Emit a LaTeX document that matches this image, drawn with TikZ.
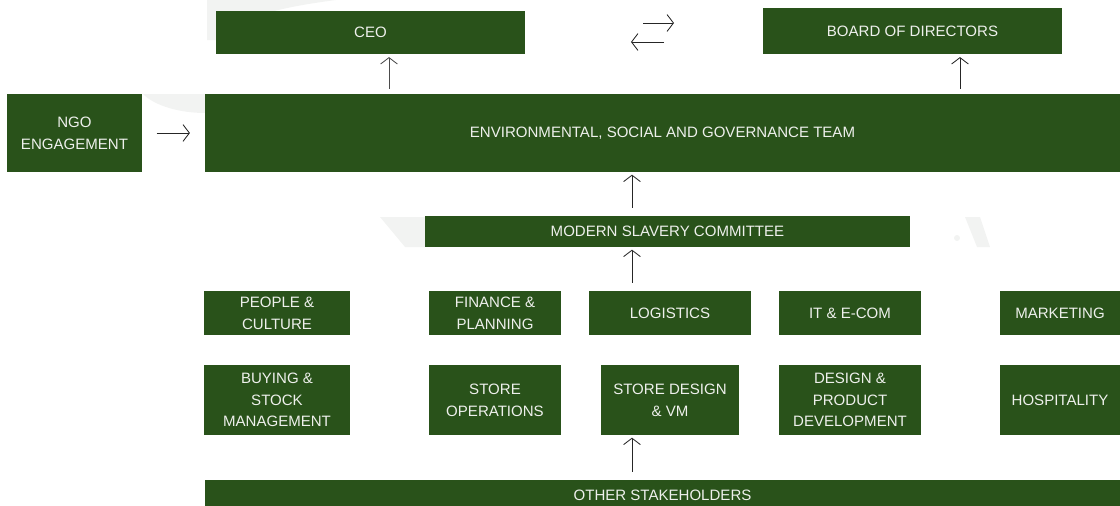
\documentclass[tikz,border=0pt]{standalone}
\usepackage{xcolor}
\usepackage{fontspec}
\setmainfont{Liberation Sans}
\usepackage{tikz}
\usetikzlibrary{arrows.meta,positioning,calc}

\definecolor{esggreen}{RGB}{41,82,26}
\definecolor{boxtext}{RGB}{238,240,236}
\definecolor{wmgray}{RGB}{242,243,242}

\begin{document}
\begin{tikzpicture}[x=0.025cm, y=-0.025cm,
    block/.style={rectangle, fill=esggreen, text=boxtext, align=center, inner sep=0pt, font=\fontsize{10.7}{15.4}\selectfont},
    boxsize/.style 2 args={minimum width=#1*0.025cm, minimum height=#2*0.025cm},
    line/.style={draw, black!85, line width=0.6pt, -{Straight Barb[length=0.16cm, width=0.42cm]}, shorten <=0.2cm, shorten >=0.06cm},
    mark_bg/.style={fill=wmgray, draw=none}]

    \useasboundingbox (0,0) rectangle (1120,506);

    % faint logo behind the chart
    \path [mark_bg] (207,0) -- (336,0) .. controls (290,6) and (235,16) .. (217,40) -- (207,40) -- cycle;
    \path [mark_bg] (143,94) -- (205,94) -- (205,113) .. controls (180,113) and (155,106) .. (143,94);
    \path [mark_bg] (380,217) -- (425,217) -- (425,247) -- (405,247) -- cycle;
    \path [mark_bg] (965,217) -- (980,217) -- (990,247) -- (977,247) -- cycle;
    \path [mark_bg] (957,238) circle (3);

    \node [block, boxsize={309}{43}] (ceo) at (370.5,32.5) {CEO};
    \node [block, boxsize={299}{46}] (board) at (912.5,31) {BOARD OF DIRECTORS};
    \node [block, boxsize={135}{78}] (ngo) at (74.5,133) {NGO\\ENGAGEMENT};
    \node [block, boxsize={915}{78}] (esg) at (662.5,133) {ENVIRONMENTAL, SOCIAL AND GOVERNANCE TEAM};
    \node [block, boxsize={485}{31}] (msc) at (667.5,231.5) {MODERN SLAVERY COMMITTEE};

    \node [block, boxsize={146}{44}] (people) at (277,313) {PEOPLE \&\\CULTURE};
    \node [block, boxsize={132}{44}] (finance) at (495,313) {FINANCE \&\\PLANNING};
    \node [block, boxsize={162}{44}] (logistics) at (670,313) {LOGISTICS};
    \node [block, boxsize={142}{44}] (itecom) at (850,313) {IT \& E-COM};
    \node [block, boxsize={120}{44}] (marketing) at (1060,313) {MARKETING};

    \node [block, boxsize={146}{70}] (buying) at (277,400) {BUYING \&\\STOCK\\MANAGEMENT};
    \node [block, boxsize={132}{70}] (storeops) at (495,400) {STORE\\OPERATIONS};
    \node [block, boxsize={138}{70}] (storedesign) at (670,400) {STORE DESIGN\\\& VM};
    \node [block, boxsize={142}{70}] (design) at (850,400) {DESIGN \&\\PRODUCT\\DEVELOPMENT};
    \node [block, boxsize={120}{70}] (hospitality) at (1060,400) {HOSPITALITY};

    \node [block, boxsize={915}{30}] (other) at (662.5,495) {OTHER STAKEHOLDERS};

    \coordinate (swapA) at (643,23);
    \coordinate (swapB) at (674,23);
    \coordinate (swapC) at (664,42);
    \coordinate (swapD) at (631,42);

    \path [line, shorten <=0pt, shorten >=0pt] (swapA) -- (swapB);
    \path [line, shorten <=0pt, shorten >=0pt] (swapC) -- (swapD);
    \path [line, shorten <=0.36cm, shorten >=0.37cm] (ngo) -- (esg.west |- ngo);
    \path [line, black!70, shorten <=0.13cm, shorten >=0.07cm] (esg.north -| 389,0) -- (ceo.south -| 389,0);
    \path [line, shorten <=0.13cm, shorten >=0.07cm] (esg.north -| 960,0) -- (board.south -| 960,0);
    \path [line] (msc.north -| 632,0) -- (esg.south -| 632,0);
    \path [line] (logistics.north -| 632,0) -- (msc.south -| 632,0);
    \path [line] (other.north -| 632,0) -- (storedesign.south -| 632,0);
\end{tikzpicture}
\end{document}
